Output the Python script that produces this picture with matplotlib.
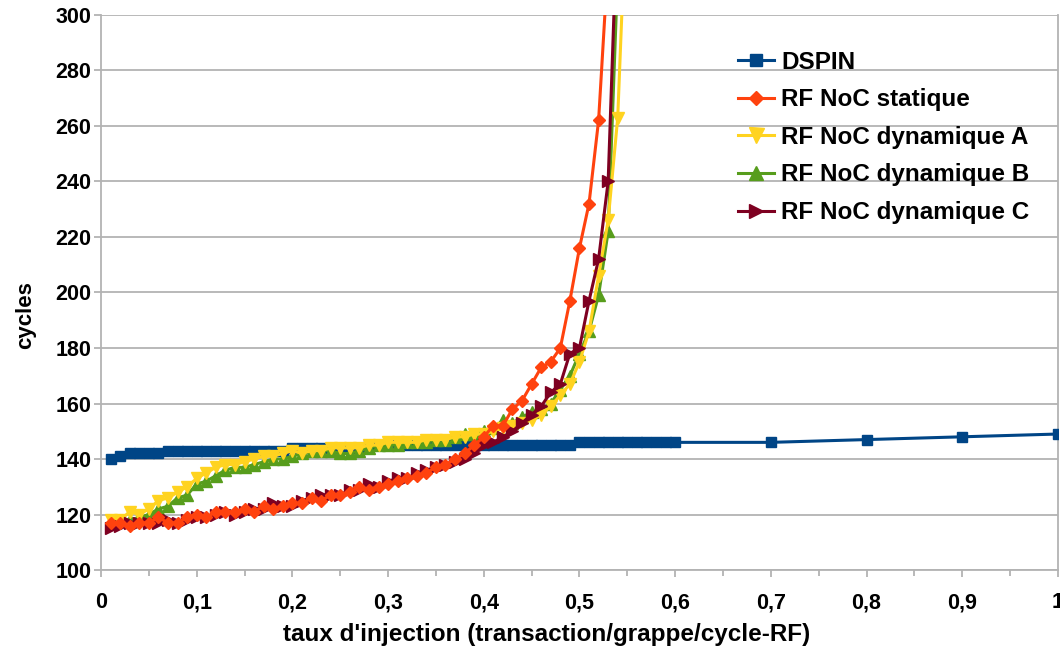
import numpy as np
import matplotlib
matplotlib.use('Agg')
import matplotlib.pyplot as plt
from matplotlib.ticker import MultipleLocator, FuncFormatter

plt.rcParams['font.family'] = ['Liberation Sans', 'DejaVu Sans']
plt.rcParams['font.weight'] = 'bold'

# injection rates (0.01 step)
x_dspin = [round(0.01 * i, 2) for i in range(1, 61)] + [0.7, 0.8, 0.9, 1.0]
dspin = ([140, 141] + [142] * 4 + [143] * 13 + [144] * 8 + [145] * 22
         + [146] * 11 + [146, 147, 148, 149])

x_static = [round(0.01 * i, 2) for i in range(1, 54)]
static = [117, 117, 116, 117, 117, 119, 117, 117, 119, 120,
          119, 121, 121, 121, 122, 121, 123, 122, 123, 124,
          124, 126, 125, 127, 127, 128, 130, 129, 130, 131,
          132, 133, 134, 135, 137, 138, 140, 142, 145, 148,
          152, 152, 158, 161, 167, 173, 175, 180, 197, 216,
          232, 262, 320]

x_dyn_a = [round(0.01 * i, 2) for i in range(1, 56)]
dyn_a = [118, 118, 121, 120, 122, 125, 126, 128, 130, 133,
         135, 137, 138, 138, 139, 140, 141, 141, 142, 143,
         142, 143, 143, 144, 144, 144, 144, 145, 145, 146,
         146, 146, 146, 147, 147, 147, 148, 148, 149, 149,
         150, 151, 152, 153, 154, 156, 159, 163, 167, 175,
         186, 206, 226, 263, 350]

x_dyn_b = [round(0.01 * i, 2) for i in range(1, 55)]
dyn_b = [117, 118, 118, 119, 120, 122, 123, 126, 127, 131,
         132, 134, 136, 137, 137, 138, 139, 140, 140, 141,
         142, 143, 143, 143, 142, 142, 143, 144, 145, 145,
         145, 146, 146, 146, 147, 147, 148, 149, 149, 150,
         151, 154, 153, 155, 157, 158, 160, 165, 170, 178,
         186, 199, 222, 315]

x_dyn_c = [round(0.01 * i, 2) for i in range(1, 55)]
dyn_c = [115, 116, 117, 117, 117, 117, 118, 117, 118, 119,
         119, 120, 121, 120, 121, 122, 122, 124, 123, 123,
         125, 126, 127, 127, 127, 129, 129, 131, 130, 132,
         133, 133, 135, 136, 137, 138, 139, 140, 142, 145,
         146, 148, 150, 153, 156, 159, 164, 167, 178, 180,
         197, 212, 240, 340]

fig = plt.figure(figsize=(10.6, 6.51), dpi=100)
ax = fig.add_axes([0.0953, 0.1244, 0.9027, 0.8526])

ax.plot(x_dspin, dspin, color='#004586', marker='s', markersize=7, lw=2.2, label='DSPIN', zorder=3)
ax.plot(x_static, static, color='#ff420e', marker='D', markersize=6, lw=2.2, label='RF NoC statique', zorder=7)
ax.plot(x_dyn_a, dyn_a, color='#ffd320', marker='v', markersize=9, lw=2.2, label='RF NoC dynamique A', zorder=5)
ax.plot(x_dyn_b, dyn_b, color='#579d1c', marker='^', markersize=8, lw=2.2, label='RF NoC dynamique B', zorder=4)
ax.plot(x_dyn_c, dyn_c, color='#7e0021', marker='>', markersize=8, lw=2.2, label='RF NoC dynamique C', zorder=6)

ax.set_xlim(0, 1)
ax.set_ylim(100, 300)
ax.xaxis.set_major_locator(MultipleLocator(0.1))
ax.xaxis.set_minor_locator(MultipleLocator(0.05))
ax.yaxis.set_major_locator(MultipleLocator(20))
ax.xaxis.set_major_formatter(FuncFormatter(lambda v, p: ('%g' % round(v, 1)).replace('.', ',')))

ax.grid(axis='y', color='#b3b3b3', lw=1.3)
ax.set_axisbelow(True)
for s in ['left', 'bottom', 'right']:
    ax.spines[s].set_color('#b3b3b3')
    ax.spines[s].set_linewidth(1.3)
ax.spines['top'].set_visible(False)
ax.tick_params(axis='both', which='major', length=5, color='#b3b3b3', width=1.3, labelsize=15.5)
ax.tick_params(axis='x', which='minor', length=4, color='#b3b3b3', width=1.3)
ax.tick_params(axis='x', pad=11)
ax.tick_params(axis='y', pad=2)

ax.set_xlabel("taux d'injection (transaction/grappe/cycle-RF)", fontsize=17.5, fontweight='bold', labelpad=7)
ax.set_ylabel('cycles', fontsize=16, fontweight='bold', labelpad=14)
ax.xaxis.label.set_x(0.466)
ax.yaxis.label.set_y(0.459)

leg = ax.legend(loc='upper left', bbox_to_anchor=(0.6425, 0.975), frameon=False,
                prop={'size': 17.5, 'weight': 'bold'}, handlelength=1.5, labelspacing=0.6,
                handletextpad=0.3, markerscale=1.2)

fig.savefig('out.png', dpi=100)
